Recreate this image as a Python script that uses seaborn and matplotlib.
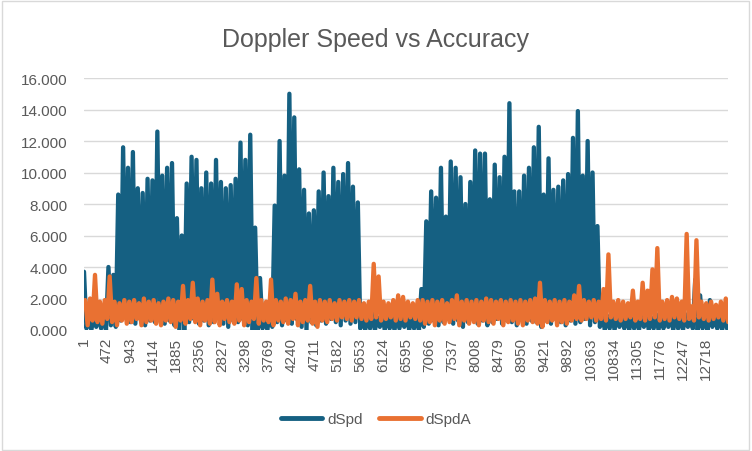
import numpy as np
import pandas as pd
import matplotlib
matplotlib.use('Agg')
import matplotlib.pyplot as plt
from matplotlib.lines import Line2D
from matplotlib.patches import Rectangle
import seaborn as sns


# values, one hi/lo pair per block of 100 points
bin_size = 100

spd_hi = [3.7, 1.0, 0.9, 1.2, 1.0, 4.0, 3.5, 8.6, 11.6, 10.3,
          11.3, 9.0, 8.7, 9.6, 9.5, 12.6, 9.8, 10.3, 10.6, 7.1,
          6.0, 9.3, 11.0, 10.8, 9.0, 10.0, 9.3, 10.8, 9.4, 9.0,
          9.2, 9.6, 11.9, 10.8, 12.4, 6.5, 3.3, 1.0, 1.2, 7.9,
          12.0, 9.8, 15.0, 13.5, 10.2, 8.9, 7.4, 7.6, 8.8, 10.0,
          8.5, 10.3, 9.4, 9.9, 10.6, 9.1, 8.1,
          1.0, 0.9, 1.1, 0.8, 1.0, 1.2, 0.9, 1.0, 0.8, 1.1, 1.0, 1.3,
          2.6, 6.9, 8.8, 8.4, 10.3, 7.2, 10.7, 10.3, 9.7, 8.0,
          9.4, 11.4, 11.2, 11.2, 8.3, 10.5, 9.7, 11.0, 14.4, 8.8,
          8.8, 9.8, 10.3, 11.6, 12.9, 8.6, 10.9, 8.9, 9.1, 9.5,
          9.9, 12.2, 13.9, 9.8, 12.0, 10.0, 6.6,
          1.0, 0.9, 1.1, 1.0, 0.8, 1.2, 1.0, 0.9, 1.1, 1.0,
          0.8, 1.0, 1.2, 0.9, 1.0, 1.1, 0.9, 1.0, 1.2,
          3.2, 2.2, 1.2, 1.9, 1.0, 0.9, 1.1]

spd_lo = [0.1, 0.0, 0.2, 0.1, 0.0, 0.3, 0.2,
          0.6, 0.8, 0.5, 0.4, 0.7, 0.3, 0.6, 0.5, 0.8, 0.4, 0.6, 0.3, 0.0,
          0.0,
          0.5, 0.7, 0.4, 0.6, 0.3, 0.5, 0.8, 0.4, 0.2, 0.6, 0.5, 0.7, 0.3, 0.0,
          0.0,
          0.1, 0.0, 0.2,
          0.5, 0.3, 0.6, 0.4, 0.7, 0.2, 0.0, 0.5, 0.3, 0.6,
          0.4, 0.7, 0.5, 0.3, 0.6, 0.4, 0.5, 0.1,
          0.0, 0.1, 0.0, 0.2, 0.0, 0.1, 0.0, 0.1, 0.2, 0.0, 0.1, 0.0,
          0.2, 0.4, 0.6, 0.3, 0.5, 0.7, 0.4, 0.6, 0.2, 0.5,
          0.8, 0.4, 0.6, 0.3, 0.5, 0.7, 0.4, 0.6, 0.5, 0.3,
          0.7, 0.4, 0.6, 0.5, 0.2, 0.6, 0.4, 0.7, 0.5, 0.3,
          0.6, 0.4, 0.5, 0.7, 0.3, 0.5, 0.2,
          0.0, 0.1, 0.0, 0.2, 0.1, 0.0, 0.1, 0.0, 0.2, 0.0,
          0.1, 0.0, 0.1, 0.2, 0.0, 0.1, 0.0, 0.2, 0.1, 0.0,
          0.1, 0.0, 0.2, 0.1, 0.0, 0.1]

acc_hi = [1.9, 2.0, 3.5, 1.8, 1.9, 3.4, 1.8, 1.7, 1.9, 1.8,
          1.9, 1.7, 2.0, 1.8, 1.9, 1.7, 1.8, 2.0, 1.9, 1.8,
          2.8, 1.9, 3.0, 2.0, 1.8, 1.9, 3.2, 2.3, 1.8, 1.9,
          1.8, 2.9, 2.6, 1.9, 1.8, 3.3, 1.9, 1.8, 3.2, 1.9,
          1.8, 2.0, 1.9, 2.3, 1.8, 1.9, 2.8, 1.8, 1.9, 1.8,
          1.9, 1.7, 1.9, 1.8, 1.9, 1.8, 1.9, 1.7, 1.8, 4.2,
          3.4, 1.8, 1.7, 1.9, 2.2, 2.1, 1.8, 1.7, 1.9, 1.9,
          1.8, 1.9, 1.8, 1.9, 1.7, 1.9, 2.2, 1.8, 1.9, 1.8,
          1.9, 1.8, 2.0, 1.9, 1.8, 1.9, 1.8, 1.9, 1.8, 1.9,
          1.8, 1.9, 2.0, 3.0, 1.9, 1.8, 1.9, 1.8, 1.9, 1.8,
          2.2, 2.8, 1.9, 1.8, 1.9, 1.8, 2.6, 4.8, 1.8, 1.9,
          1.8, 1.7, 2.5, 1.8, 3.0, 2.5, 3.85, 5.2, 1.8, 1.9,
          2.1, 2.0, 1.8, 6.1, 1.5, 5.7, 1.8, 1.7, 1.8, 1.6,
          1.8, 2.0]

acc_lo = [0.3, 0.6, 0.5, 0.4, 0.7, 0.5, 0.3, 0.6, 0.4, 0.5,
          0.7, 0.3, 0.5, 0.6, 0.4, 0.3, 0.6, 0.5, 0.2, 0.6,
          0.4, 0.7, 0.5, 0.3, 0.6, 0.4, 0.5, 0.3, 0.7, 0.5,
          0.4, 0.6, 0.3, 0.5, 0.7, 0.4, 0.6, 0.5, 0.3, 0.6,
          0.5, 0.4, 0.7, 0.3, 0.5, 0.6, 0.4, 0.2, 0.6, 0.5,
          0.7, 0.6, 0.8, 0.7, 0.6, 0.8, 0.7, 0.6, 0.7, 0.8,
          0.6, 0.7, 0.8, 0.6, 0.7, 0.6, 0.8, 0.7, 0.6, 0.4,
          0.5, 0.3, 0.6, 0.4, 0.5, 0.7, 0.3, 0.6, 0.4, 0.5,
          0.3, 0.6, 0.5, 0.4, 0.7, 0.3, 0.5, 0.6, 0.4, 0.3,
          0.6, 0.5, 0.4, 0.2, 0.5, 0.6, 0.3, 0.5, 0.4, 0.6,
          0.7, 0.6, 0.7, 0.8, 0.6, 0.7, 0.6, 0.8, 0.7, 0.6,
          0.7, 0.8, 0.6, 0.7, 0.6, 0.7, 0.8, 0.6, 0.7, 0.6,
          0.8, 0.7, 0.6, 0.7, 0.6, 0.8, 0.7, 0.6, 0.7, 0.8,
          0.6, 0.5]

tick_pos = list(range(1, 12719, 471))
series_names = ['dSpd', 'dSpdA']
colors = ['#156082', '#E97132']


def zigzag(hi, lo, offset):
    x, y = [], []
    for i in range(len(hi)):
        x += [1 + i * bin_size + offset, 1 + i * bin_size + offset + bin_size // 2]
        y += [hi[i], lo[i]]
    return pd.DataFrame({'point': x, 'value': y})


df_spd = zigzag(spd_hi, spd_lo, 0)
df_acc = zigzag(acc_hi, acc_lo, 25)

sns.set_theme(style='white')
plt.rcParams['font.family'] = ['Liberation Sans', 'DejaVu Sans']

fig, ax = plt.subplots(figsize=(7.52, 4.52), dpi=100)
fig.subplots_adjust(left=0.1117, right=0.968, top=0.8252, bottom=0.2677)

for d, c in zip([df_spd, df_acc], colors):
    sns.lineplot(data=d, x='point', y='value', ax=ax, color=c, lw=3.1,
                 estimator=None, sort=False, solid_capstyle='round',
                 solid_joinstyle='round')

ax.set_ylim(0, 16)
ax.set_yticks(np.arange(0, 17, 2))
ax.set_yticklabels(['%.3f' % v for v in np.arange(0, 17, 2)])
ax.set_xlim(1, 13170)
ax.set_xticks(tick_pos)
ax.set_xticklabels([str(t) for t in tick_pos], rotation=90)
ax.set_xlabel('')
ax.set_ylabel('')
ax.yaxis.grid(True, color='#D9D9D9', lw=1)
ax.set_axisbelow(True)
for s in ax.spines.values():
    s.set_visible(False)
ax.tick_params(axis='y', length=0, pad=12, labelsize=11, labelcolor='#595959')
ax.tick_params(axis='x', length=0, pad=5, labelsize=11, labelcolor='#595959')

fig.text(0.5, 1 - 40 / 452, 'Doppler Speed vs Accuracy', ha='center', va='center',
         fontsize=18, color='#595959')

handles = [Line2D([0], [0], color=c, lw=3.5, solid_capstyle='round') for c in colors]
ax.legend(handles, series_names, loc='center', bbox_to_anchor=(0.5, 1 - 420 / 452),
          bbox_transform=fig.transFigure, ncol=2, frameon=False, fontsize=11,
          handlelength=2.7, handletextpad=0.3, columnspacing=1.1,
          labelcolor='#595959')

fig.patches.append(Rectangle((0.002, 0.003), 0.994, 0.993, transform=fig.transFigure,
                             fill=False, edgecolor='#D9D9D9', lw=1))

fig.savefig('out.png', dpi=100)
